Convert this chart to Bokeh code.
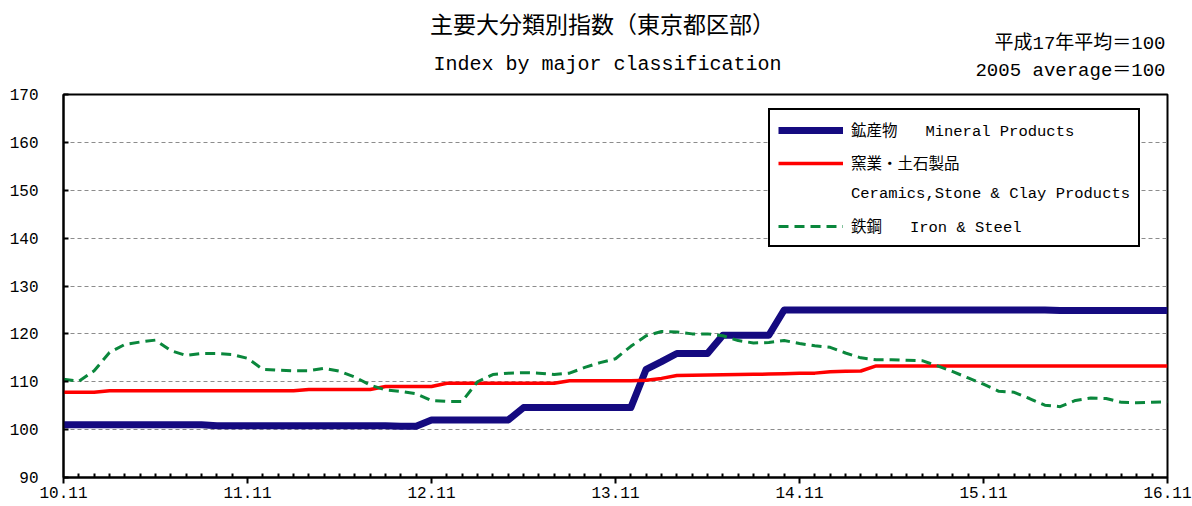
from bokeh.plotting import figure
from bokeh.models import Range1d, FixedTicker, Legend, LegendItem, Label
from bokeh.layouts import column
from bokeh.embed import file_html
from bokeh.resources import INLINE

# ---- data -------------------------------------------------------------
tick_labels = ["10.11", "11.11", "12.11", "13.11", "14.11", "15.11", "16.11"]

mineral = [
    101.0, 101.0, 101.0, 101.0, 101.0, 101.0, 101.0, 101.0, 101.0, 101.0,
    100.8, 100.8, 100.8, 100.8, 100.8, 100.8, 100.8, 100.8, 100.8, 100.8,
    100.8, 100.8, 100.7, 100.7,
    102.0, 102.0, 102.0, 102.0, 102.0, 102.0,
    104.6, 104.6, 104.6, 104.6, 104.6, 104.6, 104.6, 104.6,
    112.6, 114.2, 115.9, 115.9, 115.9,
    119.7, 119.7, 119.7, 119.7,
    125.0, 125.0, 125.0, 125.0, 125.0, 125.0, 125.0, 125.0, 125.0, 125.0,
    125.0, 125.0, 125.0, 125.0, 125.0, 125.0, 125.0, 125.0,
    124.9, 124.9, 124.9, 124.9, 124.9, 124.9, 124.9, 124.9,
]

ceramics = [
    107.8, 107.8, 107.8,
    108.1, 108.1, 108.1, 108.1, 108.1, 108.1, 108.1, 108.1, 108.1, 108.1,
    108.1, 108.1, 108.1,
    108.4, 108.4, 108.4, 108.4, 108.4,
    109.0, 109.0, 109.0, 109.0,
    109.7, 109.7, 109.7, 109.7, 109.7, 109.7, 109.7, 109.7,
    110.2, 110.2, 110.2, 110.2, 110.2,
    110.3, 110.7, 111.3, 111.35, 111.4, 111.45, 111.5, 111.55, 111.6, 111.65,
    111.75, 111.8, 112.1, 112.2, 112.25,
    113.3, 113.3, 113.3, 113.3, 113.3, 113.3, 113.3, 113.3, 113.3, 113.3,
    113.3, 113.3, 113.3, 113.3, 113.3, 113.3, 113.3, 113.3, 113.3, 113.3,
]

iron_steel = [
    110.5, 110.1, 112.3, 116.1, 117.8, 118.3, 118.7, 116.5, 115.5, 115.9,
    115.9, 115.7, 114.9, 112.6, 112.4, 112.3, 112.3, 112.8, 112.2, 111.0,
    109.3, 108.3, 108.0, 107.5, 106.1, 105.9, 105.9, 110.0, 111.5, 111.8,
    111.9, 111.8, 111.5, 111.8, 113.0, 114.0, 114.8, 117.4, 119.6, 120.5,
    120.4, 120.0, 120.0, 119.6, 118.6, 118.1, 118.2, 118.6, 118.0, 117.5,
    117.2, 116.0, 115.0, 114.6, 114.6, 114.5, 114.4, 113.3, 112.1, 110.8,
    109.5, 108.0, 107.8, 106.5, 105.1, 104.8, 106.1, 106.6, 106.5, 105.7,
    105.6, 105.7, 105.85,
]

y_ticks = [90, 100, 110, 120, 130, 140, 150, 160, 170]

title_jp = "主要大分類別指数（東京都区部）"
title_en = "Index by major classification"
note_jp = "平成17年平均＝100"
note_en = "2005 average＝100"
label_mineral = "鉱産物   Mineral Products"
label_ceramics_jp = "窯業・土石製品"
label_ceramics_en = "Ceramics,Stone & Clay Products"
label_iron = "鉄鋼   Iron & Steel"

# ---- styles ---------------------------------------------------------
MONO = "Liberation Mono, Noto Sans CJK JP"
CJK = "Noto Sans CJK JP"
BLUE = "#150A80"
RED = "#FF0000"
GREEN = "#0A873C"

W = 1192
TOP_H = 84
MAIN_H = 421
FRAME_L = 63      # page x of plot frame left edge
FRAME_R = 1167    # page x of plot frame right edge

# ---- header (titles) ------------------------------------------------
# the column aligns this header's frame with the chart frame, so the
# header x range is expressed in page pixels of that frame
head = figure(width=W, height=TOP_H, output_backend="svg", toolbar_location=None,
              x_range=Range1d(FRAME_L, FRAME_R), y_range=Range1d(TOP_H, 0),
              x_axis_type=None, y_axis_type=None,
              min_border_left=0, min_border_right=0, min_border_top=0,
              min_border_bottom=0)
head.outline_line_color = None
head.grid.visible = False
head.background_fill_color = "white"
head.border_fill_color = "white"

head.add_layout(Label(x=602, y=22, text=title_jp, text_font=CJK,
                      text_font_size="23px", text_align="center",
                      text_baseline="middle", text_color="black"))
head.add_layout(Label(x=607, y=64, text=title_en, text_font=MONO,
                      text_font_size="20px", text_align="center",
                      text_baseline="middle", text_color="black"))
head.add_layout(Label(x=1165, y=43, text=note_jp, text_font=MONO,
                      text_font_size="19px", text_align="right",
                      text_baseline="middle", text_color="black"))
head.add_layout(Label(x=1165, y=70, text=note_en, text_font=MONO,
                      text_font_size="19px", text_align="right",
                      text_baseline="middle", text_color="black"))

# ---- main chart -----------------------------------------------------
x = list(range(len(mineral)))
months_per_label = 12
major = [i * months_per_label for i in range(len(tick_labels))]
minor = [m for m in x if m % months_per_label != 0]

p = figure(width=W, height=MAIN_H, output_backend="svg", toolbar_location=None,
           x_range=Range1d(0, x[-1]), y_range=Range1d(y_ticks[0], y_ticks[-1]),
           min_border_left=FRAME_L, min_border_right=W - FRAME_R, min_border_top=10,
           min_border_bottom=28)
p.background_fill_color = "white"
p.border_fill_color = "white"
p.outline_line_color = "black"
p.outline_line_width = 2

r_min = p.line(x, mineral, line_color=BLUE, line_width=7, line_join="round")
r_cer = p.line(x, ceramics, line_color=RED, line_width=3.5, line_join="round")
r_iron = p.line(x, iron_steel, line_color=GREEN, line_width=3, line_dash="10 6")
r_blank = p.line([], [], line_alpha=0)

xa = p.xaxis[0]
xa.ticker = FixedTicker(ticks=major, minor_ticks=minor)
xa.major_label_overrides = {t: lab for t, lab in zip(major, tick_labels)}
xa.axis_line_color = "black"
xa.axis_line_width = 2
xa.major_tick_in = 0
xa.major_tick_out = 6
xa.major_tick_line_width = 2
xa.minor_tick_in = 4
xa.minor_tick_out = 0
xa.minor_tick_line_width = 2
xa.major_label_standoff = 3
xa.major_label_text_font = MONO
xa.major_label_text_font_size = "16px"
xa.major_label_text_color = "black"

ya = p.yaxis[0]
ya.ticker = FixedTicker(ticks=y_ticks, minor_ticks=[])
ya.axis_line_color = "black"
ya.axis_line_width = 2
ya.major_tick_in = 5
ya.major_tick_out = 0
ya.major_tick_line_width = 2
ya.major_label_standoff = 25
ya.major_label_text_font = MONO
ya.major_label_text_font_size = "16px"
ya.major_label_text_color = "black"

p.xgrid.visible = False
p.ygrid.ticker = FixedTicker(ticks=y_ticks)
p.ygrid.grid_line_color = "#8C8C8C"
p.ygrid.grid_line_width = 1
p.ygrid.grid_line_dash = "4 3"

legend = Legend(items=[
    LegendItem(label=label_mineral, renderers=[r_min]),
    LegendItem(label=label_ceramics_jp, renderers=[r_cer]),
    LegendItem(label=label_ceramics_en, renderers=[r_blank]),
    LegendItem(label=label_iron, renderers=[r_iron]),
], location=(705, 230))
legend.border_line_color = "black"
legend.border_line_width = 2
legend.border_line_alpha = 1
legend.background_fill_color = "white"
legend.background_fill_alpha = 1
legend.padding = 8
legend.spacing = 10
legend.margin = 0
legend.glyph_width = 65
legend.glyph_height = 20
legend.label_height = 20
legend.label_standoff = 8
legend.label_text_font = MONO
legend.label_text_font_size = "15.5px"
legend.label_text_color = "black"
p.add_layout(legend, "center")

layout = column(head, p, spacing=0)
open("out.html", "w").write(file_html(layout, INLINE))
